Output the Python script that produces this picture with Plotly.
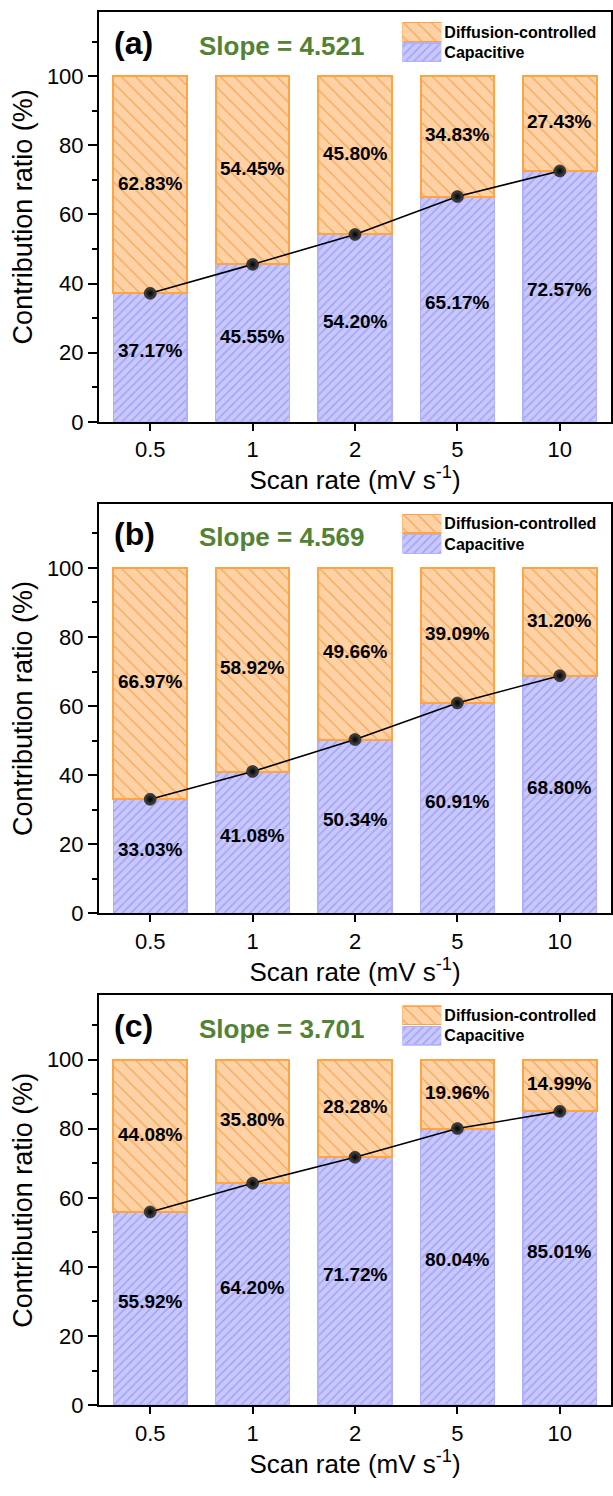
import plotly.graph_objects as go

# ---- data -------------------------------------------------------------
scan_rates = ["0.5", "1", "2", "5", "10"]
panel_tags = ["(a)", "(b)", "(c)"]
slopes = ["4.521", "4.569", "3.701"]

capacitive_a = [37.17, 45.55, 54.20, 65.17, 72.57]
diffusion_a = [62.83, 54.45, 45.80, 34.83, 27.43]
capacitive_b = [33.03, 41.08, 50.34, 60.91, 68.80]
diffusion_b = [66.97, 58.92, 49.66, 39.09, 31.20]
capacitive_c = [55.92, 64.20, 71.72, 80.04, 85.01]
diffusion_c = [44.08, 35.80, 28.28, 19.96, 14.99]

legend_labels = ["Capacitive", "Diffusion-controlled"]

panels = [
    (capacitive_a, diffusion_a),
    (capacitive_b, diffusion_b),
    (capacitive_c, diffusion_c),
]

# ---- styling ----------------------------------------------------------
W, H = 613, 1496
PLOT_L, PLOT_R = 99, 612
PANEL_TOPS = [12, 508, 1004]
PANEL_H = 413.5
FONT = "Liberation Sans, Arial, sans-serif"

ORANGE_BG = "#FFD2A6"
ORANGE_FG = "#F5A552"
ORANGE_EDGE = "#FFA345"
BLUE_BG = "#C8C8FF"
BLUE_FG = "#A2A2F2"
BLUE_EDGE = "#B0B0FF"
SLOPE_GREEN = "#548235"
BAR_WIDTH = 0.72


def py(p):
    """pixel row -> paper y"""
    return 1 - p / H


def px(p):
    """pixel column -> paper x"""
    return (p - PLOT_L) / (PLOT_R - PLOT_L)


orange_pattern = dict(shape="\\", bgcolor=ORANGE_BG, fgcolor=ORANGE_FG,
                      size=10, solidity=0.12, fillmode="replace")
blue_pattern = dict(shape="/", bgcolor=BLUE_BG, fgcolor=BLUE_FG,
                    size=6, solidity=0.25, fillmode="replace")

fig = go.Figure()
layout = dict(
    width=W, height=H,
    margin=dict(l=PLOT_L, r=W - PLOT_R, t=0, b=0),
    paper_bgcolor="white", plot_bgcolor="white",
    barmode="stack", showlegend=False,
    font=dict(family=FONT, color="black"),
)
annotations = []

idx = list(range(len(scan_rates)))

for i, (cap, dif) in enumerate(panels):
    n = i + 1
    xa = "x" if n == 1 else f"x{n}"
    ya = "y" if n == 1 else f"y{n}"
    xk = "xaxis" if n == 1 else f"xaxis{n}"
    yk = "yaxis" if n == 1 else f"yaxis{n}"
    top = PANEL_TOPS[i]
    bottom = top + PANEL_H

    fig.add_trace(go.Bar(
        x=idx, y=cap, width=BAR_WIDTH, xaxis=xa, yaxis=ya,
        marker=dict(color=BLUE_BG, pattern=blue_pattern,
                    line=dict(color=BLUE_EDGE, width=1.5)),
        hoverinfo="skip",
    ))
    fig.add_trace(go.Bar(
        x=idx, y=dif, width=BAR_WIDTH, xaxis=xa, yaxis=ya,
        marker=dict(color=ORANGE_BG, pattern=orange_pattern,
                    line=dict(color=ORANGE_EDGE, width=2)),
        hoverinfo="skip",
    ))
    fig.add_trace(go.Scatter(
        x=idx, y=cap, xaxis=xa, yaxis=ya, mode="lines+markers",
        line=dict(color="black", width=1.6),
        marker=dict(size=12, color="#4a4a4a",
                    gradient=dict(type="radial", color="#000000"),
                    line=dict(width=0.5, color="black")),
        hoverinfo="skip",
    ))

    # percentage labels inside each segment
    for j in idx:
        annotations.append(dict(
            x=j, y=cap[j] + dif[j] / 2 + 0.5, xref=xa, yref=ya,
            text=f"<b>{dif[j]:.2f}%</b>", showarrow=False,
            font=dict(size=19, family=FONT, color="black"),
        ))
        annotations.append(dict(
            x=j, y=cap[j] / 2 + 2, xref=xa, yref=ya,
            text=f"<b>{cap[j]:.2f}%</b>", showarrow=False,
            font=dict(size=19, family=FONT, color="black"),
        ))

    # panel tag and slope
    annotations.append(dict(
        x=px(112), y=py(top + 31), xref="paper", yref="paper",
        xanchor="left", yanchor="middle", showarrow=False,
        text=f"<b>{panel_tags[i]}</b>",
        font=dict(size=32, family=FONT, color="black"),
    ))
    annotations.append(dict(
        x=px(282), y=py(top + 34), xref="paper", yref="paper",
        xanchor="center", yanchor="middle", showarrow=False,
        text=f"<b>Slope = {slopes[i]}</b>",
        font=dict(size=26, family=FONT, color=SLOPE_GREEN),
    ))

    layout[xk] = dict(
        domain=[0, 1], anchor=ya, range=[-0.5, 4.5],
        tickvals=idx, ticktext=scan_rates,
        ticks="outside", ticklen=7, tickwidth=2, tickcolor="black",
        showline=True, linewidth=2, linecolor="black", mirror=True,
        showgrid=False, zeroline=False,
        tickfont=dict(size=22, family=FONT),
        title=dict(text="Scan rate (mV s<sup>-1</sup>)",
                   font=dict(size=26, family=FONT), standoff=4),
    )
    layout[yk] = dict(
        domain=[py(bottom), py(top)], anchor=xa, range=[0, 118.6],
        tick0=0, dtick=20,
        ticks="outside", ticklen=9, tickwidth=2, tickcolor="black",
        minor=dict(dtick=10, ticks="outside", ticklen=5, tickwidth=2,
                   tickcolor="black", showgrid=False),
        showline=True, linewidth=2, linecolor="black", mirror=True,
        showgrid=False, zeroline=False,
        tickfont=dict(size=22, family=FONT),
        title=dict(text="Contribution ratio (%)",
                   font=dict(size=27, family=FONT), standoff=6),
    )

    # legend swatches drawn on a small companion axis pair
    lxa, lya = f"x{n + 3}", f"y{n + 3}"
    for label, pattern, edge, fill in [
        ("Capacitive", blue_pattern, BLUE_EDGE, BLUE_BG),
        ("Diffusion-controlled", orange_pattern, ORANGE_EDGE, ORANGE_BG),
    ]:
        fig.add_trace(go.Bar(
            y=[label], x=[1], orientation="h", width=0.92,
            xaxis=lxa, yaxis=lya,
            marker=dict(color=fill, pattern=pattern,
                        line=dict(color=edge, width=1.5)),
            hoverinfo="skip",
        ))
    layout[f"xaxis{n + 3}"] = dict(
        domain=[px(403), px(442)], anchor=lya, range=[0, 1],
        visible=False, fixedrange=True,
    )
    layout[f"yaxis{n + 3}"] = dict(
        domain=[py(top + 51), py(top + 10)], anchor=lxa,
        type="category", categoryorder="array", categoryarray=legend_labels,
        side="right", showline=False, ticks="", showgrid=False,
        zeroline=False, ticklabelstandoff=2,
        tickfont=dict(size=16, family=FONT, weight="bold"),
    )

layout["annotations"] = annotations
fig.update_layout(**layout)

fig.write_html("out.html")
